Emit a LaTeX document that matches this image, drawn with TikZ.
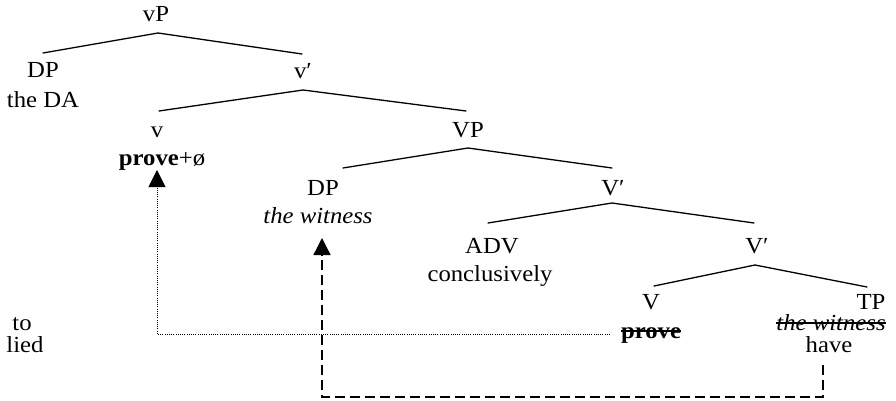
\documentclass[tikz,border=0pt]{standalone}
\usepackage{fontspec}
\setmainfont{Liberation Serif}[FakeStretch=1.075]
\usetikzlibrary{arrows.meta}
\begin{document}
\begin{tikzpicture}[x=1pt,y=-1pt,
  font=\fontsize{23}{27}\selectfont,
  lab/.style={anchor=base, inner sep=0pt, outer sep=0pt},
  branch/.style={line width=1.3pt, line cap=round},
  strike/.style={line width=1.4pt},
  dotmove/.style={line width=1pt, dash pattern=on 1pt off 1.2pt, -{Triangle[length=17pt,width=17pt]}},
  dashmove/.style={line width=1.3pt, dash pattern=on 10pt off 5pt, -{Triangle[length=17pt,width=17pt]}}]
\useasboundingbox (0,0) rectangle (896,401);

% labels
\node[lab] (vP)    at (156,22)  {vP};
\node[lab] (DP1)   at (43,78)   {DP};
\node[lab] (DA)    at (43,108)  {the DA};
\node[lab] (vbar)  at (303,79)  {v′};
\node[lab] (v)     at (157,137) {v};
\node[lab] (prv)   at (162,165) {\textbf{prove}+ø};
\node[lab] (VP)    at (468,137) {VP};
\node[lab] (DP2)   at (323,195) {DP};
\node[lab] (wit)   at (318,223) {\textit{the witness}};
\node[lab] (Vbar1) at (613,195) {V′};
\node[lab] (ADV)   at (492,253) {ADV};
\node[lab] (concl) at (490,281) {conclusively};
\node[lab] (Vbar2) at (757,253) {V′};
\node[lab] (V)     at (651,309) {V};
\node[lab] (prvx)  at (651,338) {\textbf{prove}};
\node[lab] (TP)    at (871,309) {TP};
\node[lab] (witx)  at (831,330) {\textit{the witness}};
\node[lab] (have)  at (829,352) {have};
\node[lab] (to)    at (22,330)  {to};
\node[lab] (lied)  at (25,352)  {lied};

% strike-outs
\draw[strike] ([yshift=7pt]prvx.base west) -- ([yshift=7pt]prvx.base east);
\draw[strike] ([yshift=7pt]witx.base west) -- ([yshift=7pt]witx.base east);

% branch points
\coordinate (a1) at (158,33);  \coordinate (a1l) at (43,53);   \coordinate (a1r) at (302,54);
\coordinate (a2) at (303,90);  \coordinate (a2l) at (159,111); \coordinate (a2r) at (466,111);
\coordinate (a3) at (468,148); \coordinate (a3l) at (343,168); \coordinate (a3r) at (612,168);
\coordinate (a4) at (612,203); \coordinate (a4l) at (488,223); \coordinate (a4r) at (754,223);
\coordinate (a5) at (755,265); \coordinate (a5l) at (654,286); \coordinate (a5r) at (867,287);

\draw[branch] (a1l) -- (a1) -- (a1r);
\draw[branch] (a2l) -- (a2) -- (a2r);
\draw[branch] (a3l) -- (a3) -- (a3r);
\draw[branch] (a4l) -- (a4) -- (a4r);
\draw[branch] (a5l) -- (a5) -- (a5r);

% movement arrows
\coordinate (m1s) at (610,334); \coordinate (m1c) at (157,334); \coordinate (m1t) at (157,170);
\draw[dotmove] (m1s) -- (m1c) -- (m1t);
\coordinate (m2s) at (823,365); \coordinate (m2a) at (823,397); \coordinate (m2b) at (322,397); \coordinate (m2t) at (322,238);
\draw[dashmove] (m2s) -- (m2a) -- (m2b) -- (m2t);
\end{tikzpicture}
\end{document}
